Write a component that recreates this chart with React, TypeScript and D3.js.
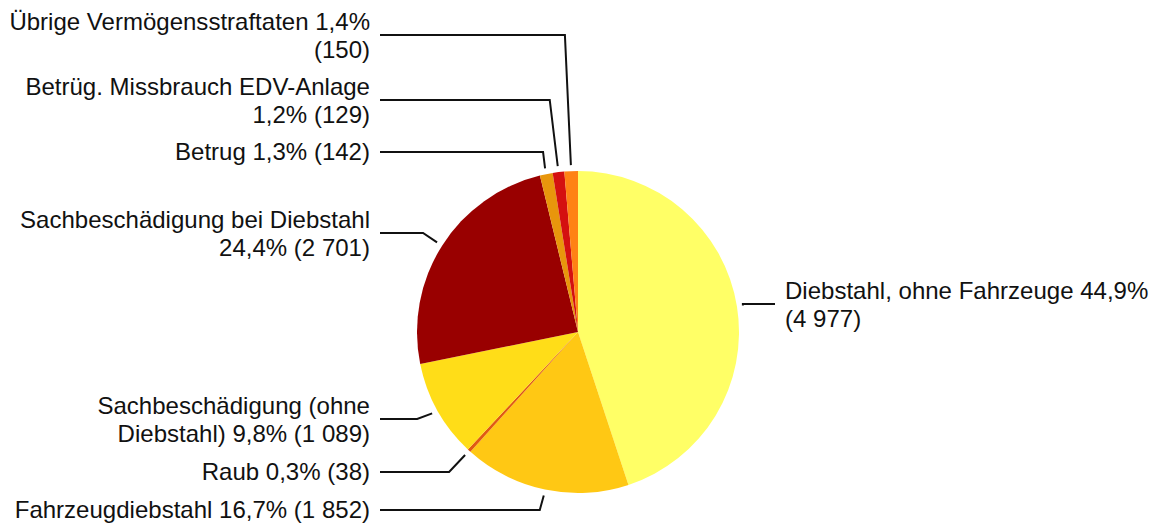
import React from "react";
import * as d3 from "d3";

const categories = [
  "Diebstahl, ohne Fahrzeuge",
  "Fahrzeugdiebstahl",
  "Raub",
  "Sachbeschädigung (ohne Diebstahl)",
  "Sachbeschädigung bei Diebstahl",
  "Betrug",
  "Betrüg. Missbrauch EDV-Anlage",
  "Übrige Vermögensstraftaten",
];
const counts = [4977, 1852, 38, 1089, 2701, 142, 129, 150];
const labelLines = [
  ["Diebstahl, ohne Fahrzeuge 44,9%", "(4 977)"],
  ["Fahrzeugdiebstahl 16,7% (1 852)"],
  ["Raub 0,3% (38)"],
  ["Sachbeschädigung (ohne", "Diebstahl) 9,8% (1 089)"],
  ["Sachbeschädigung bei Diebstahl", "24,4% (2 701)"],
  ["Betrug 1,3% (142)"],
  ["Betrüg. Missbrauch EDV-Anlage", "1,2% (129)"],
  ["Übrige Vermögensstraftaten 1,4%", "(150)"],
];
const colors = ["#FFFF66", "#FFC814", "#E05A12", "#FFDD18", "#990000", "#E8960C", "#D41010", "#FF8214"];

// layout (not data)
const labelY = [304, 510, 472, 419, 233, 152, 100, 35];
const elbowDx = [0, -4, -16, -15, -14, -2, -8, -6];
const side = ["right", "left", "left", "left", "left", "left", "left", "left"];

const W = 1156, H = 525;
const cx = 578, cy = 332, R = 161;
const leftTextX = 370, leftLineEnd = 380;
const rightTextX = 785, rightLineEnd = 775;
const stretch = 1.045;

export default function App() {
  const data = categories.map((c, i) => ({ c, v: counts[i], i }));
  const pie = d3.pie<any>().value((d: any) => d.v).sort(null).startAngle(0).endAngle(2 * Math.PI);
  const arcs = pie(data);
  const arc = d3.arc<any>().innerRadius(0).outerRadius(R);
  const outer = d3.arc<any>().innerRadius(167).outerRadius(167);

  return (
    <svg width={W} height={H} style={{ position: "absolute", left: 0, top: 0, background: "#fff" }}
      fontFamily="'Liberation Sans', Arial, sans-serif" fontSize={23}>
      <g transform={`translate(${cx},${cy})`}>
        {arcs.map((a, i) => (
          <path key={i} d={arc(a) as string} fill={colors[i]} />
        ))}
      </g>
      {arcs.map((a, i) => {
        const [px, py] = outer.centroid(a);
        const sx = cx + px, sy = cy + py;
        const ly = labelY[i];
        const bx = sx + elbowDx[i];
        const isLeft = side[i] === "left";
        const endX = isLeft ? leftLineEnd : rightLineEnd;
        const path = d3.path();
        path.moveTo(sx, sy);
        path.lineTo(bx, ly);
        path.lineTo(endX, ly);
        const lines = labelLines[i];
        const base = lines.length === 1 ? [ly + 8] : [ly - 5, ly + 23];
        const tx = isLeft ? leftTextX : rightTextX;
        return (
          <g key={i}>
            <path d={path.toString()} fill="none" stroke="#111" strokeWidth={2} />
            {lines.map((t, k) => (
              <text key={k} transform={`translate(${tx},${base[k]}) scale(${stretch},1)`}
                textAnchor={isLeft ? "end" : "start"} fill="#111">{t}</text>
            ))}
          </g>
        );
      })}
    </svg>
  );
}
